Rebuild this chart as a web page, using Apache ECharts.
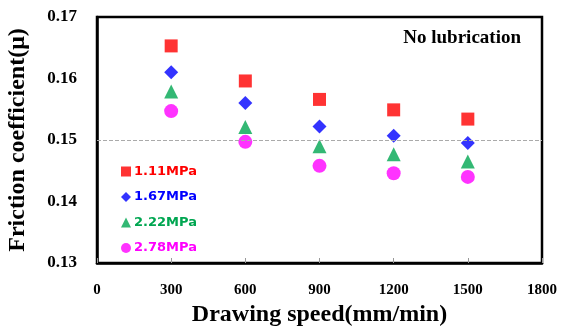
<!DOCTYPE html>
<html>
<head>
<meta charset="utf-8">
<script src="https://cdn.jsdelivr.net/npm/echarts@6/dist/echarts.min.js"></script>
<style>
  html, body { margin: 0; padding: 0; background: #fff; }
  #chart { width: 563px; height: 329px; }
</style>
</head>
<body>
<div id="chart"></div>
<script>
// drawing speed (mm/min)
var speeds = [300, 600, 900, 1200, 1500]
var seriesNames = ['1.11MPa', '1.67MPa', '2.22MPa', '2.78MPa']
var mu111 = [0.1653, 0.1596, 0.1566, 0.1549, 0.1534]
var mu167 = [0.1610, 0.1560, 0.1522, 0.1507, 0.1495]
var mu222 = [0.1579, 0.1521, 0.1490, 0.1477, 0.1465]
var mu278 = [0.1547, 0.1497, 0.1458, 0.1446, 0.1440]

var colors = ['#ff0000', '#0000ff', '#00a651', '#ff00ff']
var symbols = ['rect', 'diamond', 'triangle', 'circle']
var sizes = [13, 14, 14, 14]
var allData = [mu111, mu167, mu222, mu278]

var serif = '"Liberation Serif", "Times New Roman", serif'

var chart = echarts.init(document.getElementById('chart'))

var series = seriesNames.map(function(name, i) {
  return {
    name: name,
    type: 'scatter',
    symbol: symbols[i],
    symbolSize: sizes[i],
    itemStyle: { color: colors[i] },
    data: speeds.map(function(s, j) { return [s, allData[i][j]] }),
    markLine: i === 0 ? {
      silent: true,
      symbol: 'none',
      label: { show: false },
      lineStyle: { type: 'dashed', color: '#aaaaaa', width: 1 },
      data: [{ yAxis: 0.15 }]
    } : undefined
  }
})

chart.setOption({
  animation: false,
  title: {
    text: 'No lubrication',
    right: 37,
    top: 24,
    textStyle: { fontFamily: serif, fontWeight: 'bold', fontSize: 19, color: '#000' }
  },
  legend: {
    orient: 'vertical',
    left: 116,
    top: 160,
    itemWidth: 10,
    itemHeight: 10,
    itemGap: 12.5,
    data: seriesNames.map(function(n, i) {
      return { name: n, textStyle: { color: colors[i] } }
    }),
    textStyle: { fontFamily: '"DejaVu Sans", Verdana, sans-serif', fontWeight: 'bold', fontSize: 13, padding: [0, 0, 0, -2] }
  },
  grid: {
    left: 97,
    right: 21,
    top: 17,
    bottom: 66,
    containLabel: false,
    outerBoundsMode: 'none',
    show: true,
    borderColor: '#000',
    borderWidth: 2.5
  },
  xAxis: {
    type: 'value',
    min: 0,
    max: 1800,
    interval: 300,
    name: 'Drawing speed(mm/min)',
    nameLocation: 'middle',
    nameGap: 38,
    nameTextStyle: { fontFamily: serif, fontWeight: 'bold', fontSize: 24, color: '#000' },
    axisLine: { lineStyle: { color: '#000', width: 2.5 } },
    axisTick: { inside: true, length: 5, lineStyle: { color: '#999' } },
    axisLabel: {
      fontFamily: serif, fontWeight: 'bold', fontSize: 15, color: '#000', margin: 20,
      formatter: function(v) { return String(v) }
    },
    splitLine: { show: false }
  },
  yAxis: {
    type: 'value',
    min: 0.13,
    max: 0.17,
    interval: 0.01,
    name: 'Friction coefficient(μ)',
    nameLocation: 'middle',
    nameGap: 67,
    nameTextStyle: { fontFamily: serif, fontWeight: 'bold', fontSize: 24, color: '#000' },
    axisLine: { show: true, lineStyle: { color: '#000', width: 2.5 } },
    axisTick: { show: false },
    axisLabel: {
      fontFamily: serif, fontWeight: 'bold', fontSize: 17, color: '#000', margin: 20,
      formatter: function(v) { return v.toFixed(2) }
    },
    splitLine: { show: false }
  },
  series: series
})
</script>
</body>
</html>
